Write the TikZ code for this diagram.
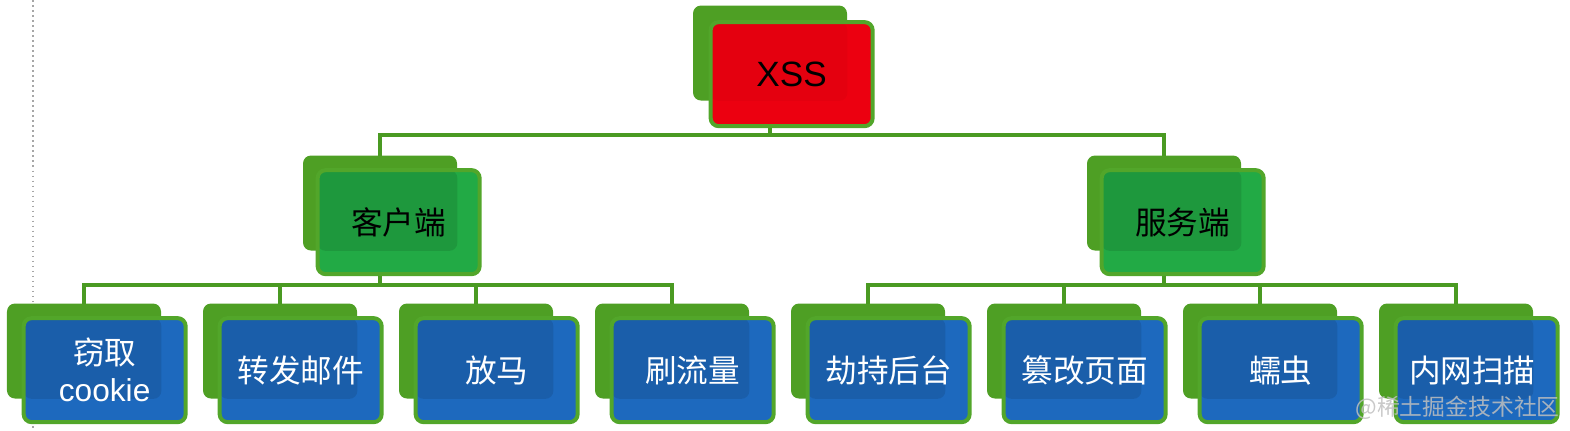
\documentclass[tikz,border=0pt]{standalone}
\usepackage{fontspec}
\setmainfont{Liberation Sans}
\newfontfamily\cjk{Noto Sans CJK SC}
\usetikzlibrary{backgrounds}

\definecolor{backgreen}{HTML}{4E9F24}
\definecolor{rimgreen}{HTML}{52A62A}
\definecolor{linkgreen}{HTML}{4A9A22}
\definecolor{rootred}{HTML}{EC0010}
\definecolor{sidegreen}{HTML}{22AA45}
\definecolor{leafblue}{HTML}{1D69BE}

\tikzset{
    shade amount/.store in=\shadeamount,
    shade amount=0.1,
    backtile/.style={
        fill=backgreen, rounded corners=1.6mm,
        minimum width=30.8mm, minimum height=19mm, inner sep=0pt
    },
    fronttile/.style={
        draw=rimgreen, line width=0.8mm, rounded corners=1.6mm,
        minimum width=32.4mm, minimum height=20.8mm, inner sep=0pt,
        anchor=north west, align=center,
        font=\fontsize{18}{21}\selectfont,
        path picture={
            \fill[black, opacity=\shadeamount] (path picture bounding box.north west)
                rectangle (#1.south east);
        }
    },
    link/.style={
        draw=linkgreen, line width=0.7mm
    }
}

\begin{document}
\begin{tikzpicture}[x=0.2mm, y=-0.2mm]
        \useasboundingbox (0,0) rectangle (1570,430);

        % Root
        \node[backtile] (xss-b) at (770,53) {};
        \node[fronttile=xss-b, fill=rootred, shade amount=0.03,
              font=\fontsize{20}{24}\selectfont]
            (xss) at ([shift={(16,15)}]xss-b.north west) {XSS};

        % Second level
        \node[backtile] (client-b) at (380,203) {};
        \node[fronttile=client-b, fill=sidegreen]
            (client) at ([shift={(13,13)}]client-b.north west) {\cjk 客户端};

        \node[backtile] (server-b) at (1164,203) {};
        \node[fronttile=server-b, fill=sidegreen]
            (server) at ([shift={(13,13)}]server-b.north west) {\cjk 服务端};

        % Leaves
        \foreach \name/\i/\txt in {
            steal/0/{{\cjk 窃取}\\cookie},
            mail/1/{\cjk 转发邮件},
            trojan/2/{\cjk 放马},
            traffic/3/{\cjk 刷流量},
            hijack/4/{\cjk 劫持后台},
            deface/5/{\cjk 篡改页面},
            worm/6/{\cjk 蠕虫},
            scan/7/{\cjk 内网扫描}
        }{
            \node[backtile] (\name-b) at ({84+196*\i},351) {};
            \node[fronttile=\name-b, fill=leafblue, text=white]
                (\name) at ([shift={(15,13)}]\name-b.north west) {\txt};
        }

        % Connectors
        \begin{scope}[on background layer]
            \draw[gray!70, dotted, line width=0.3mm] (33,0) -- (33,430);

            \coordinate (topbus) at (0,135);
            \coordinate (lowbus) at (0,285);

            \draw[link] (xss-b.center) -- (xss-b.center |- topbus) -| (client-b.center);
            \draw[link] (xss-b.center |- topbus) -| (server-b.center);

            \foreach \name in {steal,mail,trojan,traffic}
                \draw[link] (client-b.center) -- (client-b.center |- lowbus) -| (\name-b.center);
            \foreach \name in {hijack,deface,worm,scan}
                \draw[link] (server-b.center) -- (server-b.center |- lowbus) -| (\name-b.center);
        \end{scope}

        % Watermark
        \node[anchor=south east, text=gray!50, opacity=0.85,
              font=\cjk\fontsize{13}{13}\selectfont]
            (mark) at (1566,426) {@稀土掘金技术社区};

    \end{tikzpicture}
\end{document}
